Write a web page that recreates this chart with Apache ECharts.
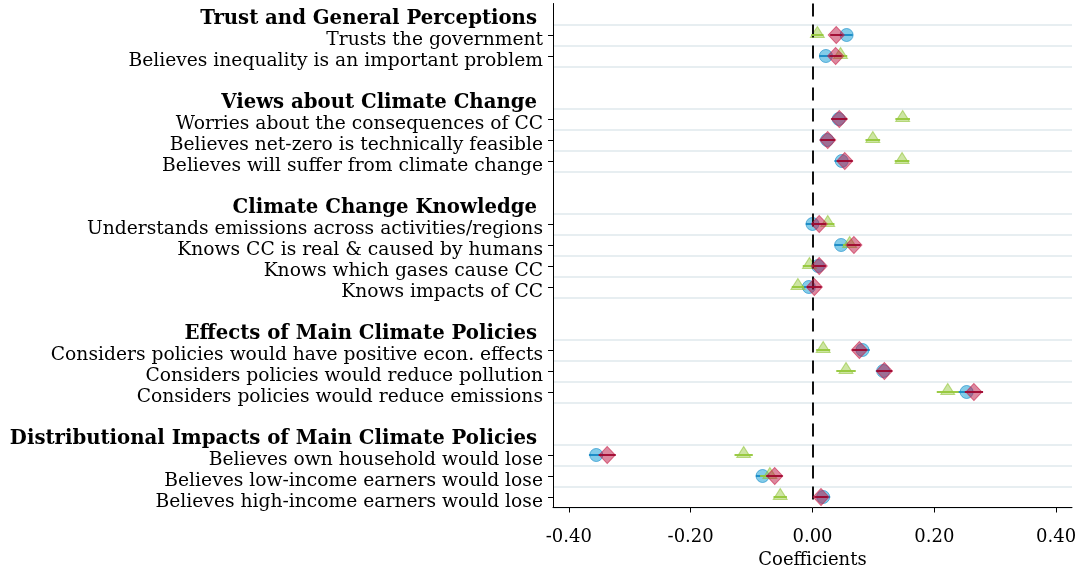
<!DOCTYPE html>
<html>
<head>
<meta charset="utf-8">
<script src="https://cdn.jsdelivr.net/npm/echarts@6/dist/echarts.min.js"></script>
<style>
html,body{margin:0;padding:0;background:#fff;}
#chart{width:1079px;height:568px;}
</style>
</head>
<body>
<div id="chart"></div>
<script>
// ---- Data ----
const headers = [
  'Trust and General Perceptions',
  'Views about Climate Change',
  'Climate Change Knowledge',
  'Effects of Main Climate Policies',
  'Distributional Impacts of Main Climate Policies'
];
const groupSizes = [2, 3, 4, 3, 3];
const rowLabels = [
  'Trusts the government',
  'Believes inequality is an important problem',
  'Worries about the consequences of CC',
  'Believes net-zero is technically feasible',
  'Believes will suffer from climate change',
  'Understands emissions across activities/regions',
  'Knows CC is real & caused by humans',
  'Knows which gases cause CC',
  'Knows impacts of CC',
  'Considers policies would have positive econ. effects',
  'Considers policies would reduce pollution',
  'Considers policies would reduce emissions',
  'Believes own household would lose',
  'Believes low-income earners would lose',
  'Believes high-income earners would lose'
];
// blue circles
const blueEst = [0.056, 0.022, 0.043, 0.024, 0.048, 0.000, 0.047, 0.009, -0.006, 0.082, 0.116, 0.253, -0.355, -0.082, 0.0175];
const blueLo  = [0.046, 0.011, 0.031, 0.012, 0.036, -0.011, 0.036, -0.002, -0.017, 0.070, 0.104, 0.239, -0.367, -0.093, 0.006];
const blueHi  = [0.066, 0.033, 0.055, 0.036, 0.060, 0.011, 0.058, 0.020, 0.006, 0.094, 0.128, 0.267, -0.343, -0.071, 0.029];
// green triangles
const greenEst = [0.008, 0.046, 0.148, 0.099, 0.147, 0.025, 0.061, -0.005, -0.024, 0.0175, 0.055, 0.222, -0.113, -0.070, -0.053];
const greenLo  = [-0.002, 0.035, 0.136, 0.087, 0.135, 0.014, 0.050, -0.016, -0.034, 0.006, 0.039, 0.204, -0.128, -0.086, -0.064];
const greenHi  = [0.018, 0.057, 0.160, 0.111, 0.159, 0.036, 0.072, 0.006, -0.014, 0.029, 0.071, 0.240, -0.098, -0.054, -0.042];
// red diamonds
const redEst = [0.039, 0.038, 0.044, 0.025, 0.053, 0.011, 0.068, 0.011, 0.003, 0.077, 0.118, 0.265, -0.337, -0.062, 0.014];
const redLo  = [0.029, 0.028, 0.031, 0.013, 0.040, 0.000, 0.057, 0.000, -0.009, 0.065, 0.105, 0.250, -0.351, -0.076, 0.003];
const redHi  = [0.049, 0.048, 0.057, 0.037, 0.066, 0.022, 0.079, 0.022, 0.015, 0.089, 0.131, 0.280, -0.323, -0.049, 0.025];
const xTicks = [-0.4, -0.2, 0, 0.2, 0.4];

// ---- Build category slots ----
const cats = [], kind = [], rowSlot = [];
let r = 0;
groupSizes.forEach((n, g) => {
  if (g > 0) { cats.push(''); kind.push('blank'); }
  cats.push(headers[g]); kind.push('head');
  for (let k = 0; k < n; k++) { cats.push(rowLabels[r]); kind.push('row'); rowSlot.push(cats.length - 1); r++; }
});
const isRow = i => kind[i] === 'row';

function pts(est) { return est.map((v, i) => [v, rowSlot[i]]); }
function ci(lo, hi) { return lo.map((v, i) => [v, hi[i], rowSlot[i]]); }
function ciSeries(lo, hi, color, z) {
  return {
    type: 'custom', z: z, silent: true,
    data: ci(lo, hi),
    encode: { x: [0, 1], y: 2 },
    renderItem: function (params, api) {
      const y = api.value(2);
      const p1 = api.coord([api.value(0), y]);
      const p2 = api.coord([api.value(1), y]);
      return { type: 'line', shape: { x1: p1[0], y1: p1[1], x2: p2[0], y2: p2[1] },
               style: { stroke: color, lineWidth: 2 } };
    }
  };
}

const FONT = 'DejaVu Serif';
const chart = echarts.init(document.getElementById('chart'), null, { renderer: 'canvas' });
chart.setOption({
  animation: false,
  backgroundColor: '#fff',
  grid: { left: 553, right: 7, top: 3.5, height: 504, containLabel: false, outerBoundsMode: 'none' },
  xAxis: {
    type: 'value', min: -0.426, max: 0.426,
    interval: 0.2,
    customValues: xTicks,
    axisLine: { show: true, onZero: false, lineStyle: { color: '#000', width: 1 } },
    axisTick: { show: true, length: 5, lineStyle: { color: '#000' }, customValues: xTicks },
    axisLabel: { show: true, customValues: xTicks, margin: 21, fontFamily: FONT, fontSize: 18, color: '#000',
                 formatter: v => v.toFixed(2) },
    splitLine: { show: false },
    name: 'Coefficients', nameLocation: 'middle', nameGap: 40,
    nameTextStyle: { fontFamily: FONT, fontSize: 18, color: '#000' }
  },
  yAxis: {
    type: 'category', inverse: true, data: cats,
    axisLine: { show: true, onZero: false, lineStyle: { color: '#000', width: 1 } },
    axisTick: { show: true, alignWithLabel: true, length: 5, interval: (i) => isRow(i), lineStyle: { color: '#000' } },
    axisLabel: {
      interval: 0, margin: 10, color: '#000', fontFamily: FONT, fontSize: 18.7,
      padding: [10, 0, 0, 0],
      formatter: function (v, i) {
        if (kind[i] === 'head') return '{h|' + v + '}';
        if (kind[i] === 'row') return '{r|' + v + '}';
        return '';
      },
      rich: {
        h: { fontFamily: FONT, fontSize: 19.7, fontWeight: 'bold', color: '#000', padding: [0, 6, 0, 0] },
        r: { fontFamily: FONT, fontSize: 18.7, color: '#000' }
      }
    },
    splitLine: { show: true, interval: (i) => isRow(i) || (i > 0 && isRow(i - 1)),
                 lineStyle: { color: '#e7eef1', width: 2 } }
  },
  series: [
    { type: 'line', data: [], z: 1, silent: true,
      markLine: { silent: true, symbol: ['none', 'none'], label: { show: false },
        lineStyle: { color: '#111', type: [13, 8], width: 2 },
        data: [{ xAxis: 0 }] } },
    { type: 'scatter', z: 2, data: pts(blueEst), symbol: 'circle', symbolSize: 13,
      itemStyle: { color: 'rgba(25,160,215,0.68)', borderColor: 'rgba(20,140,200,0.8)', borderWidth: 1 } },
    ciSeries(blueLo, blueHi, 'rgba(20,135,195,0.9)', 3),
    { type: 'scatter', z: 4, data: pts(greenEst), symbol: 'triangle', symbolSize: [14, 11], symbolOffset: [0, -3],
      itemStyle: { color: 'rgba(150,200,60,0.6)', borderColor: 'rgba(140,195,50,0.7)', borderWidth: 1 } },
    ciSeries(greenLo, greenHi, 'rgba(150,200,60,0.95)', 5),
    { type: 'scatter', z: 6, data: pts(redEst), symbol: 'diamond', symbolSize: [16, 17],
      itemStyle: { color: 'rgba(185,15,60,0.62)', borderColor: 'rgba(200,30,70,0.8)', borderWidth: 1 } },
    ciSeries(redLo, redHi, 'rgba(160,10,50,0.95)', 7)
  ]
});
</script>
</body>
</html>
